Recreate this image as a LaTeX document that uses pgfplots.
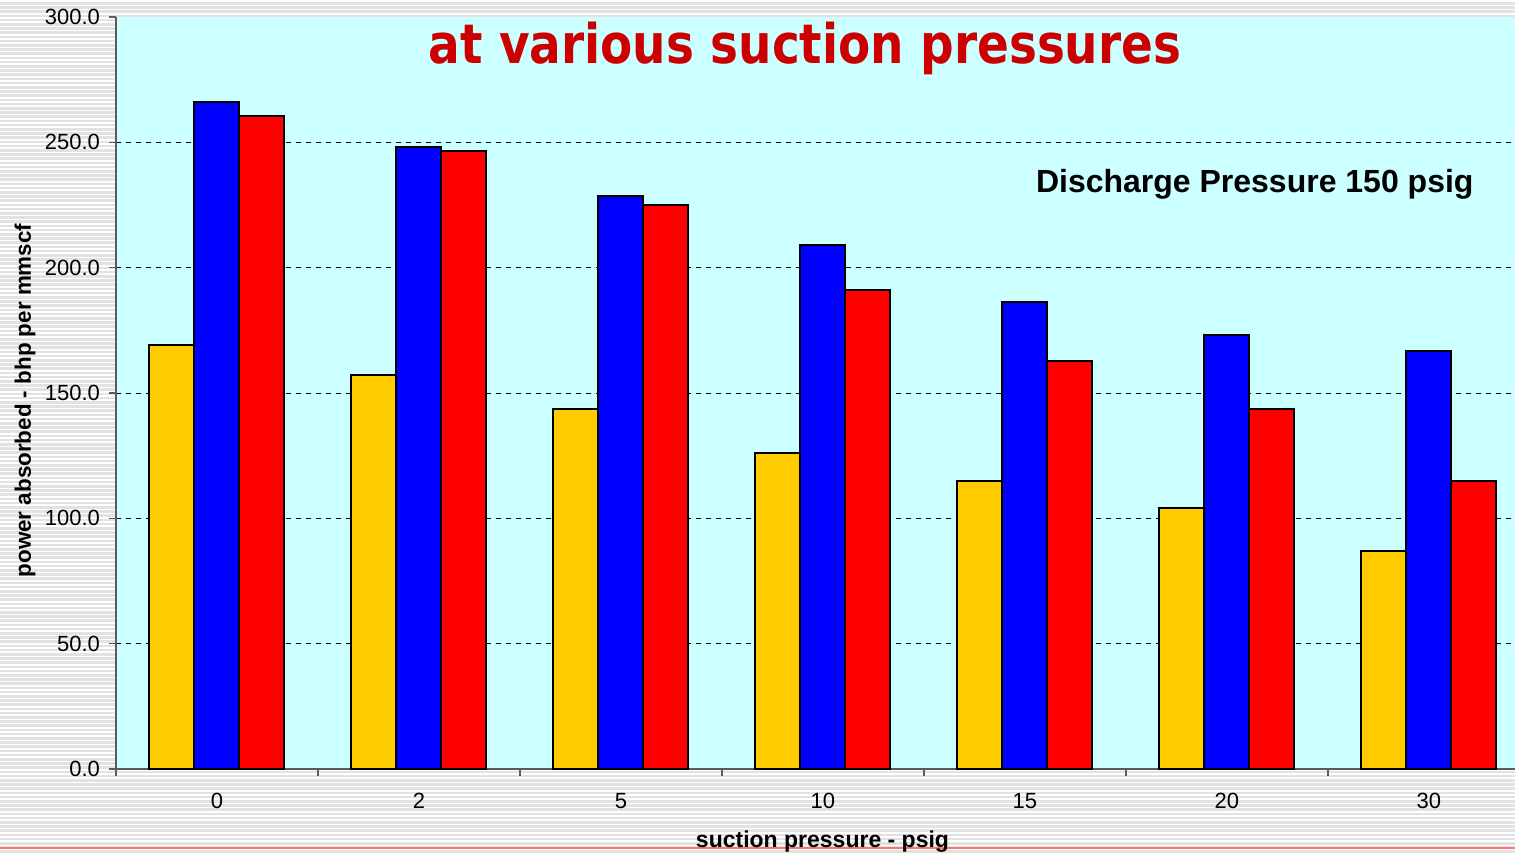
\documentclass[border=0pt]{standalone}
\usepackage{pgfplots}
\pgfplotsset{compat=1.18}
\usepackage{fontspec}
\setmainfont{Liberation Sans}
\newfontfamily\titlefont[FakeStretch=0.86]{DejaVu Sans}
\definecolor{bgcyan}{RGB}{204,255,255}
\definecolor{baryellow}{RGB}{255,204,0}
\definecolor{barblue}{RGB}{0,0,255}
\definecolor{barred}{RGB}{255,0,0}
\definecolor{stripe}{RGB}{226,226,226}
\definecolor{axgray}{RGB}{90,90,90}
\begin{document}
\begin{tikzpicture}
\useasboundingbox (0,0) rectangle (757.5pt,426.5pt);
\fill[white] (0,0) rectangle (757.5pt,426.5pt);
\begin{scope}[x=0.5pt,y=0.5pt]
\foreach \i in {0,...,203} {\fill[stripe] (0,\i*4.2) rectangle ++(1515,2.6);}
\draw[red!55,line width=0.8pt] (0,5) -- (1515,5);
\end{scope}
\begin{axis}[
  at={(58pt,42pt)}, anchor=south west,
  scale only axis, width=699.5pt, height=376pt,
  xmin=-0.5, xmax=6.426, ymin=0, ymax=300,
  axis background/.style={fill=bgcyan},
  axis x line*=bottom, axis y line*=left,
  axis line style={draw=axgray, line width=0.6pt},
  ybar, bar width=22.5pt,
  xtick={0,...,6},
  xticklabels={0,2,5,10,15,20,30},
  xtick style={draw=none},
  minor xtick={-0.5,0.5,...,5.5},
  minor x tick style={draw=axgray, line width=0.6pt},
  minor tick length=3.5pt,
  ytick={0,50,...,250},
  extra y ticks={300},
  extra y tick style={grid=none},
  ytick style={draw=axgray, line width=0.6pt},
  major tick length=3.5pt,
  tick align=outside,
  ymajorgrids,
  major grid style={draw=black, line width=0.5pt, dash pattern=on 2.5pt off 2.5pt},
  /pgf/number format/assume math mode=true,
  yticklabel={\pgfmathprintnumber[fixed,fixed zerofill,precision=1]{\tick}},
  ticklabel style={font=\fontsize{11}{13}\selectfont},
  xticklabel style={yshift=-5pt},
  yticklabel style={xshift=-1pt},
  xlabel={suction pressure - psig},
  ylabel={power absorbed - bhp per mmscf},
  every axis x label/.style={at={(axis description cs:0.505,-0.097)}, anchor=center, font=\bfseries\fontsize{11.5}{13}\selectfont},
  every axis y label/.style={at={(axis description cs:-0.065,0.49)}, rotate=90, anchor=center, font=\bfseries\fontsize{11.2}{13}\selectfont},
  clip=false,
]
\addplot[fill=baryellow, draw=black, line width=1pt, bar shift=-22.5pt] coordinates {(0,169.1) (1,157.2) (2,143.6) (3,126.1) (4,114.9) (5,104.1) (6,87.0)};
\addplot[fill=barblue, draw=black, line width=1pt, bar shift=0pt] coordinates {(0,266.1) (1,248.1) (2,228.6) (3,209.0) (4,186.3) (5,173.1) (6,166.8)};
\addplot[fill=barred, draw=black, line width=1pt, bar shift=22.5pt] coordinates {(0,260.5) (1,246.5) (2,225.0) (3,191.1) (4,162.8) (5,143.6) (6,114.9)};
\node[font=\titlefont\bfseries\fontsize{27.3}{30}\selectfont, text=red!80!black] at (rel axis cs:0.4925,0.958) {at various suction pressures};
\node[font=\bfseries\fontsize{16}{18}\selectfont] at (rel axis cs:0.814,0.778) {Discharge Pressure 150 psig};
\end{axis}
\end{tikzpicture}
\end{document}
